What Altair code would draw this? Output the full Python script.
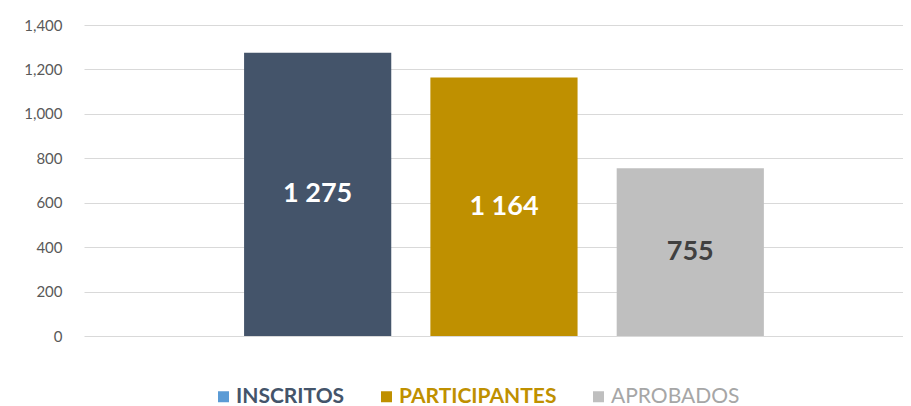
import altair as alt
import pandas as pd

categorias = ["INSCRITOS", "PARTICIPANTES", "APROBADOS"]
valores = [1275, 1164, 755]
colores_barras = ["#44546A", "#BF9000", "#BFBFBF"]
colores_leyenda = ["#5B9BD5", "#BF9000", "#BFBFBF"]
ticks_y = [0, 200, 400, 600, 800, 1000, 1200, 1400]

df = pd.DataFrame({"categoria": categorias, "valor": valores})

FONT = "Lato"

x_enc = alt.X(
    "categoria:N",
    sort=categorias,
    scale=alt.Scale(domain=categorias, paddingInner=0.21, paddingOuter=0.803, align=0.535),
    axis=None,
)

y_scale = alt.Scale(domain=[0, 1400], nice=False)
y_axis = alt.Axis(
    values=ticks_y,
    format=",.0f",
    title=None,
    ticks=False,
    domain=False,
    labelPadding=22,
    labelFontSize=15,
    labelColor="#595959",
    labelFont=FONT,
    gridColor="#D9D9D9",
    gridWidth=1,
)

base = alt.Chart(df)

bars = base.mark_bar().encode(
    x=x_enc,
    y=alt.Y("valor:Q", scale=y_scale, axis=y_axis),
    fill=alt.Fill("categoria:N", scale=alt.Scale(domain=categorias, range=colores_barras), legend=None),
)

labels = base.transform_calculate(
    mitad="datum.valor / 2",
    etiqueta="replace(format(datum.valor, ','), ',', ' ')",
).mark_text(fontSize=27, fontWeight="bold", baseline="middle", align="center", font=FONT).encode(
    x=x_enc,
    y=alt.Y("mitad:Q", scale=y_scale, axis=y_axis),
    text="etiqueta:N",
    color=alt.condition("datum.categoria == 'APROBADOS'", alt.value("#404040"), alt.value("#FFFFFF")),
)

leyenda = base.mark_square(size=0, opacity=1).encode(
    x=x_enc,
    y=alt.Y("valor:Q", scale=y_scale, axis=y_axis),
    color=alt.Color(
        "categoria:N",
        scale=alt.Scale(domain=categorias, range=colores_leyenda),
        legend=alt.Legend(
            title=None,
            orient="none",
            direction="horizontal",
            legendX=129,
            legendY=361,
            symbolType="square",
            symbolSize=121,
            symbolStrokeWidth=0,
            labelOffset=2,
            columnPadding=31,
            labelFontSize=21,
            labelFont=FONT,
            labelLimit=400,
            labelColor={"expr": "datum.label == 'INSCRITOS' ? '#44546A' : datum.label == 'PARTICIPANTES' ? '#BF9000' : '#A6A6A6'"},
            labelFontWeight={"expr": "datum.label == 'APROBADOS' ? 'normal' : 'bold'"},
        ),
    ),
)

chart = alt.layer(leyenda, bars, labels).properties(
    width=819,
    height=311,
    autosize=alt.AutoSizeParams(type="none"),
    padding={"left": 76, "top": 17, "right": 0, "bottom": 70},
).configure_view(stroke=None)

chart.save("out.html", embed_options={"renderer": "svg", "actions": False})
